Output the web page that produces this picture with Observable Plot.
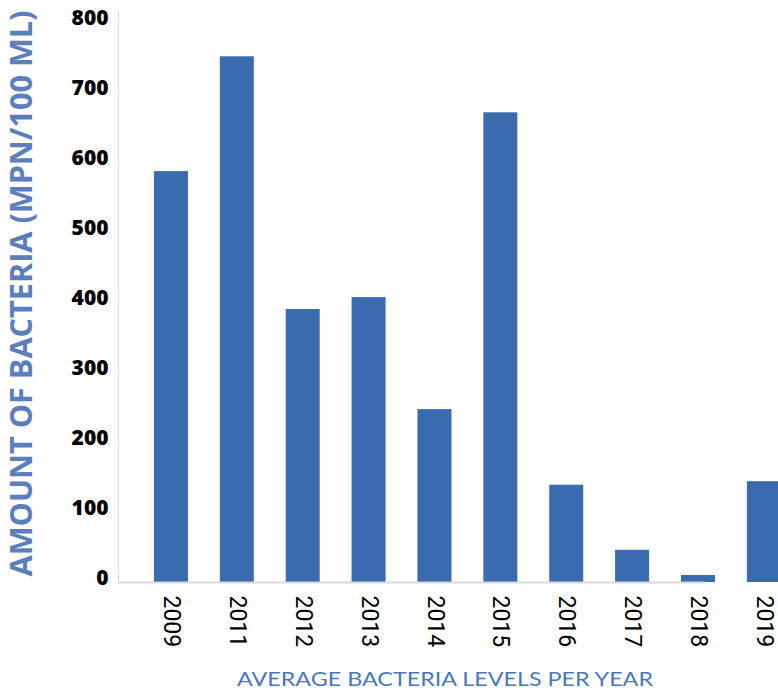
<!DOCTYPE html>
<html>
<head>
<meta charset="utf-8">
<script src="https://cdn.jsdelivr.net/npm/d3@7"></script>
<script src="https://cdn.jsdelivr.net/npm/@observablehq/plot@0.6"></script>
<style>
  html, body { margin: 0; padding: 0; background: #fff; overflow: hidden; }
</style>
</head>
<body>
<div id="chart"></div>
<script>
const years = ["2009", "2011", "2012", "2013", "2014", "2015", "2016", "2017", "2018", "2019"];
const values = [587, 751, 390, 407, 247, 671, 139, 46, 10, 144];
const yTicks = [0, 100, 200, 300, 400, 500, 600, 700, 800];
const yTitle = "AMOUNT OF BACTERIA (MPN/100 ML)";
const xTitle = "AVERAGE BACTERIA LEVELS PER YEAR";

const data = years.map((year, i) => ({year, value: values[i]}));

const plot = Plot.plot({
  width: 778,
  height: 694,
  marginLeft: 118,
  marginRight: 75,
  marginTop: 10,
  marginBottom: 112,
  style: {fontFamily: "'Open Sans', sans-serif", background: "#fff", overflow: "hidden"},
  x: {domain: years, range: [138, 796.8], paddingInner: 0.484, paddingOuter: 0.242, round: false, label: null},
  y: {domain: [0, 800], range: [582, 22], label: null},
  marks: [
    Plot.barY(data, {x: "year", y: "value", fill: "#396BAE", inset: 0}),
    Plot.frame({anchor: "left", stroke: "#d9d9d9", strokeWidth: 1}),
    Plot.frame({anchor: "bottom", stroke: "#d9d9d9", strokeWidth: 2}),
    Plot.axisY(yTicks, {tickSize: 0, tickPadding: 10, dy: -4, fontSize: 21, fontWeight: 800, fill: "#000", fontFamily: "'Open Sans', sans-serif", label: null}),
    Plot.axisX({tickSize: 0, tickPadding: 13, tickRotate: 90, fontSize: 23, fill: "#000", fontFamily: "Roboto, sans-serif", label: null}),
    Plot.text([yTitle], {frameAnchor: "left", textAnchor: "middle", rotate: -90, dx: -96, dy: -3, fontSize: 30, fontWeight: "bold", fill: "#5B7EBD", fontFamily: "'Open Sans', sans-serif", className: "ytitle"}),
    Plot.text([xTitle], {frameAnchor: "bottom", dx: 34, dy: 103, fontSize: 20, fill: "#4A76BD", fontFamily: "Lato, sans-serif", className: "xtitle"})
  ]
});

document.getElementById("chart").appendChild(plot);
d3.select(plot).selectAll(".ytitle text").attr("textLength", 566).attr("lengthAdjust", "spacingAndGlyphs");
d3.select(plot).selectAll(".xtitle text").attr("textLength", 416).attr("lengthAdjust", "spacingAndGlyphs");
</script>
</body>
</html>
